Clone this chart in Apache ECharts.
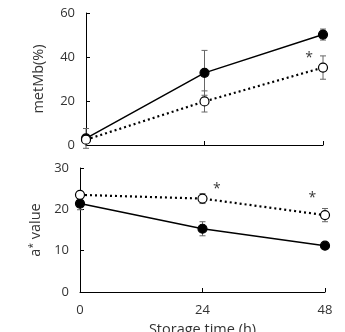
<!DOCTYPE html>
<html>
<head>
<meta charset="utf-8">
<script src="https://cdn.jsdelivr.net/npm/echarts@6/dist/echarts.min.js"></script>
<style>
  html, body { margin: 0; padding: 0; background: #fff; }
  #chart { width: 345px; height: 332px; }
</style>
</head>
<body>
<div id="chart"></div>
<script>
// storage time (h)
const hours = [0, 24, 48]

// metMb (%)
const metMbFilled = [3.0, 32.8, 50.2]
const metMbFilledErr = [4.5, 10.2, 2.5]
const metMbOpen = [2.4, 19.8, 35.2]
const metMbOpenErr = [1.0, 4.8, 5.3]
const metMbStars = [[45.2, 39.5]]

// a* value
const aFilled = [21.4, 15.3, 11.2]
const aFilledErr = [1.5, 1.7, 0.4]
const aOpen = [23.5, 22.6, 18.6]
const aOpenErr = [0.6, 1.2, 1.6]
const aStars = [[26.8, 25.0], [45.5, 22.8]]

const font = 'Open Sans'
const textColor = '#333'

const pts = (ys) => hours.map((h, i) => [h, ys[i]])
const errs = (ys, es) => hours.map((h, i) => [h, ys[i] - es[i], ys[i] + es[i]])

function errorBar(params, api) {
  const x = api.value(0)
  const lo = api.coord([x, api.value(1)])
  const hi = api.coord([x, api.value(2)])
  const w = 3
  const style = { stroke: '#666', lineWidth: 1 }
  return {
    type: 'group',
    children: [
      { type: 'line', shape: { x1: lo[0], y1: lo[1], x2: hi[0], y2: hi[1] }, style },
      { type: 'line', shape: { x1: hi[0] - w, y1: hi[1], x2: hi[0] + w, y2: hi[1] }, style },
      { type: 'line', shape: { x1: lo[0] - w, y1: lo[1], x2: lo[0] + w, y2: lo[1] }, style }
    ]
  }
}

function xAxis(gridIndex, showLabel) {
  return {
    type: 'value', gridIndex, min: 0, max: 48, interval: 24,
    axisLine: { lineStyle: { color: '#000', width: 1 } },
    axisTick: { inside: true, length: 4, lineStyle: { color: '#000' } },
    axisLabel: { show: showLabel, margin: 12, fontFamily: font, fontSize: 13, color: textColor },
    splitLine: { show: false },
    name: showLabel ? 'Storage time (h)' : '',
    nameLocation: 'middle', nameGap: 30,
    nameTextStyle: { fontFamily: font, fontSize: 14.5, color: textColor }
  }
}

function yAxis(gridIndex, max, interval, name, gap) {
  return {
    type: 'value', gridIndex, min: 0, max, interval,
    axisLine: { show: true, lineStyle: { color: '#000', width: 1 } },
    axisTick: { show: true, inside: true, length: 4, lineStyle: { color: '#000' } },
    axisLabel: { margin: 11, fontFamily: font, fontSize: 13, color: textColor },
    splitLine: { show: false },
    name, nameLocation: 'middle', nameGap: gap, nameRotate: 90,
    nameTextStyle: {
      fontFamily: font, fontSize: 14.5, color: textColor,
      rich: { sup: { fontFamily: font, fontSize: 10, color: textColor, verticalAlign: 'top', padding: [0, 0, 6, 0] } }
    }
  }
}

function lineSeries(idx, data, filled) {
  return {
    type: 'line', xAxisIndex: idx, yAxisIndex: idx, data,
    symbol: 'circle', symbolSize: 9, z: 5,
    lineStyle: { color: '#000', width: filled ? 1.5 : 2.2, type: filled ? 'solid' : [2, 3] },
    itemStyle: { color: filled ? '#000' : '#fff', borderColor: '#000', borderWidth: 1.2 }
  }
}

function errSeries(idx, data) {
  return { type: 'custom', xAxisIndex: idx, yAxisIndex: idx, data, renderItem: errorBar, z: 3 }
}

function starSeries(idx, data) {
  return {
    type: 'scatter', xAxisIndex: idx, yAxisIndex: idx, data, symbolSize: 2,
    itemStyle: { color: 'rgba(0,0,0,0)' },
    label: { show: true, position: 'inside', formatter: '*', fontFamily: font, fontSize: 14, color: '#000' }
  }
}

const chart = echarts.init(document.getElementById('chart'))
chart.setOption({
  animation: false,
  grid: [
    { left: 86, top: 13, width: 237, height: 132, outerBoundsMode: 'none' },
    { left: 80, top: 168, width: 245, height: 124, outerBoundsMode: 'none' }
  ],
  xAxis: [xAxis(0, false), xAxis(1, true)],
  yAxis: [yAxis(0, 60, 20, 'metMb(%)', 40), yAxis(1, 30, 10, 'a{sup|*} value', 36)],
  series: [
    errSeries(0, errs(metMbFilled, metMbFilledErr)),
    errSeries(0, errs(metMbOpen, metMbOpenErr)),
    lineSeries(0, pts(metMbFilled), true),
    lineSeries(0, pts(metMbOpen), false),
    starSeries(0, metMbStars),
    errSeries(1, errs(aFilled, aFilledErr)),
    errSeries(1, errs(aOpen, aOpenErr)),
    lineSeries(1, pts(aFilled), true),
    lineSeries(1, pts(aOpen), false),
    starSeries(1, aStars)
  ]
})
</script>
</body>
</html>
